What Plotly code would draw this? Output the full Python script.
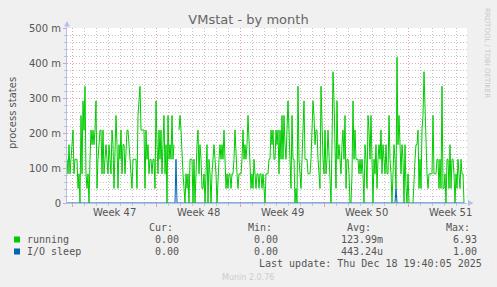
import pandas as pd
import plotly.graph_objects as go

TITLE = "VMstat - by month"
Y_LABEL = "process states"

# Time axis: one sample every 2 hours, first sample at this time
SERIES_START = "2025-11-15 14:00"
STEP_HOURS = 2
X_RANGE = ["2025-11-15 14:00", "2025-12-18 22:00"]

# "running" values, in units of 1/24 process (None = no data)
UNIT = 1 / 24
running_counts = [
    3, 2, 4, 2, 3, 4, 5, 2, 3, 3, 3, 1, 2, 0, 6, 2, 7, 5, 8, 2,
    1, 2, 0, 3, 5, 4, 5, 4, 5, 7, 1, 3, 4, 5, 5, 2, 5, 2, 3, 4,
    3, 2, 4, 3, 2, 5, 4, 1, 3, 6, 4, 1, 4, 3, 5, 2, 4,
    4, 2, 4, 5, 5, 4, 3, 2, 1, 3, 3, 3, 3, 1, 6, 7, 8, 5, 5, 5,
    5, 1, 5, 3, 4, 2, 3, 3, 2, 3, 3, 1, 7, 4, 2, 5, 3, 5, 2, 4,
    6, 2, 4, 0, 6, 3, 4, 3, 6, 3, 4,
    None, None, None, None,
    5, 6, 5, 3, 2, 1, 0, 2, 1, 2, 0, 3, 3, 3, 0, 3, 0, 3, 4, 5,
    2, 4, 3, 1, 1, 2, 0, 2, 4, 0, 3, 2, 0, 2, 3, 4, 3, 2, 0, 2,
    3, 4, 3, 4, 3, 5, 2, 1, 2, 1, 2, 2, 1, 2, 2, 3, 5, 3, 2,
    1, 2, 2, 2, 3, 5, 3, 4, 3, 4, 6, 4, 3, 1, 2, 1, 3, 2, 1, 2,
    2, 1, 2, 2, 1, 2, 1, 0, 2, 2, 2, 3, 3, 5, 4, 5, 3, 3, 5, 4,
    5, 2, 5, 3, 6, 3, 6, 4, 3, 5, 7, 5, 3, 1, 6, 3, 3, 0,
    1, 0, 8, 3, 2, 1, 3, 5, 7, 3, 3, 3, 2, 2, 2, 3, 5, 7, 6, 4,
    5, 5, 3, 2, 1, 8, 5, 3, 2, 5, 2, 3, 5, 3, 1, 0, 4, 9, 7, 4,
    1, 7, 3, 4, 3, 2, 4, 5, 3, 6, 1, 3, 3, 2, 0, 0, 2, 7,
    3, 5, 3, 3, 3, 2, 3, 2, 3, 2, 0, 4, 3, 1, 6, 5, 3, 6, 2, 0,
    3, 2, 4, 1, 3, 4, 3, 5, 2, 4, 3, 2, 4, 2, 2, 6, 3, 2, 0, 3,
    4, 3, 1, 10, 4, 6, 3, 2, 4, 3, 0, 4, 1, 0, 2, 0,
    None, None, None,
    0, 2, 3, 4, 4, 5, 1, 3, 1, 5, 6, 9, 6, 4, 2, 1, 2, 2, 2, 2,
    6, 2, 2, 2, 3, 3, 1, 3, 1, 8, 1, 1, 2, 0, 3, 3, 1, 4, 1, 3,
    3, 2, 0, 2, 1, 3, 2, 1, 3, 2, 2, 0,
]

# "I/O sleep" is zero except for these two spikes
io_sleep_spikes = {"2025-11-24 16:00": 0.125, "2025-12-13 00:00": 0.0417}

# Axis ticks
week_starts = ["2025-11-16", "2025-11-23", "2025-11-30", "2025-12-07", "2025-12-14"]
week_label_times = ["2025-11-19 12:00", "2025-11-26 12:00", "2025-12-03 12:00",
                    "2025-12-10 12:00", "2025-12-17 12:00"]
week_labels = ["Week 47", "Week 48", "Week 49", "Week 50", "Week 51"]
y_tickvals = [0, 0.1, 0.2, 0.3, 0.4, 0.5]
y_ticktext = ["0", "100 m", "200 m", "300 m", "400 m", "500 m"]

# Legend table
series_names = ["running", "I/O sleep"]
series_colors = ["#00CC00", "#0066B3"]
stat_headers = ["Cur:", "Min:", "Avg:", "Max:"]
stat_running = ["0.00", "0.00", "123.99m", "6.93"]
stat_iosleep = ["0.00", "0.00", "443.24u", "1.00"]
last_update = "Last update: Thu Dec 18 19:40:05 2025"
footer = "Munin 2.0.76"
side_text = "RRDTOOL / TOBI OETIKER"

# ---------------------------------------------------------------
times = pd.date_range(SERIES_START, periods=len(running_counts), freq=f"{STEP_HOURS}h")
running = [None if v is None else v * UNIT for v in running_counts]
io_sleep = [io_sleep_spikes.get(t.strftime("%Y-%m-%d %H:%M"), 0.0) for t in times]

W, H = 497, 287
L, R, T, B = 67, 467, 28, 203


def px(x):
    return (x - L) / (R - L)


def py(y):
    return (B - y) / (B - T)


TEXT = "#555555"
AXIS = "#B4C0EA"
MGRID = "#EBA0A0"
GRID = "#C4C4C4"
DOTS = "1px,2px"

fig = go.Figure()
fig.add_trace(go.Scatter(x=times, y=io_sleep, mode="lines",
                         line=dict(color=series_colors[1], width=1), hoverinfo="skip"))
fig.add_trace(go.Scatter(x=times, y=running, mode="lines", connectgaps=False,
                         line=dict(color=series_colors[0], width=1), hoverinfo="skip"))

fig.update_layout(
    width=W, height=H,
    margin=dict(l=L, r=W - R, t=T, b=H - B, pad=0),
    paper_bgcolor="#F0F0F0", plot_bgcolor="#FFFFFF",
    font=dict(family="DejaVu Sans", size=10, color=TEXT),
    showlegend=False,
    title=dict(text=TITLE, x=0.5, xref="container", xanchor="center",
               y=1 - 19 / H, yref="container", yanchor="middle",
               font=dict(size=13, color="#666666", family="DejaVu Sans")),
)

fig.update_xaxes(
    type="date", range=X_RANGE, tickvals=week_starts, ticktext=[""] * len(week_starts),
    showgrid=True, gridcolor=MGRID, griddash=DOTS, gridwidth=1,
    ticks="outside", ticklen=3, tickcolor=MGRID,
    showline=True, linecolor=AXIS, linewidth=1, layer="above traces",
    zeroline=False, automargin=False, fixedrange=True,
    minor=dict(dtick=86400000, tick0="2025-11-16", showgrid=True, gridcolor=GRID,
               griddash=DOTS, gridwidth=1, ticks="outside", ticklen=2, tickcolor=GRID),
)
fig.update_yaxes(
    range=[0, 0.5], tickvals=y_tickvals, ticktext=y_ticktext,
    showgrid=True, gridcolor=MGRID, griddash=DOTS, gridwidth=1,
    ticks="outside", ticklen=3, tickcolor=MGRID,
    tickfont=dict(size=10, color=TEXT),
    showline=True, linecolor=AXIS, linewidth=1, layer="above traces",
    zeroline=False, automargin=False, fixedrange=True,
    minor=dict(dtick=0.02, tick0=0, showgrid=True, gridcolor=GRID,
               griddash=DOTS, gridwidth=1, ticks="outside", ticklen=2, tickcolor=GRID),
)

ann = []
# week labels
for t, lab in zip(week_label_times, week_labels):
    ann.append(dict(x=t, xref="x", y=py(212), yref="paper", text=lab, showarrow=False,
                    xanchor="center", yanchor="middle", font=dict(size=10, color=TEXT)))
# y axis title
ann.append(dict(x=px(12), y=py(113), xref="paper", yref="paper", text=Y_LABEL,
                showarrow=False, textangle=-90, xanchor="center", yanchor="middle",
                font=dict(size=10, color=TEXT)))
# side text
ann.append(dict(x=px(487), y=py(53), xref="paper", yref="paper", text=side_text,
                showarrow=False, textangle=90, xanchor="center", yanchor="middle",
                font=dict(size=7, color="#C8C8C8")))

MONO = "DejaVu Sans Mono"
hdr_right = [173, 272, 371, 470]
val_right = [179, 278, 383, 477]
for h, xr in zip(stat_headers, hdr_right):
    ann.append(dict(x=px(xr), y=py(227), xref="paper", yref="paper", text=h,
                    showarrow=False, xanchor="right", yanchor="middle",
                    borderpad=0, borderwidth=0, font=dict(family=MONO, size=10, color=TEXT)))
for row_y, name, stats in [(239, series_names[0], stat_running),
                           (251, series_names[1], stat_iosleep)]:
    ann.append(dict(x=px(27), y=py(row_y), xref="paper", yref="paper", text=name,
                    showarrow=False, xanchor="left", yanchor="middle",
                    borderpad=0, borderwidth=0, font=dict(family=MONO, size=10, color=TEXT)))
    for v, xr in zip(stats, val_right):
        ann.append(dict(x=px(xr), y=py(row_y), xref="paper", yref="paper", text=v,
                        showarrow=False, xanchor="right", yanchor="middle",
                        borderpad=0, borderwidth=0, font=dict(family=MONO, size=10, color=TEXT)))
ann.append(dict(x=px(482), y=py(263), xref="paper", yref="paper", text=last_update,
                showarrow=False, xanchor="right", yanchor="middle",
                borderpad=0, borderwidth=0, font=dict(family=MONO, size=10, color=TEXT)))
ann.append(dict(x=px(248), y=py(277), xref="paper", yref="paper", text=footer,
                showarrow=False, xanchor="center", yanchor="middle",
                font=dict(size=8, color="#CCCCCC")))
fig.update_layout(annotations=ann)

shapes = []
# legend swatches
for row_y, col in [(239.5, series_colors[0]), (251.5, series_colors[1])]:
    shapes.append(dict(type="rect", xref="paper", yref="paper",
                       x0=px(14), x1=px(20), y0=py(row_y - 3), y1=py(row_y + 3),
                       fillcolor=col, line=dict(width=0)))
# axis arrows
shapes.append(dict(type="path", xref="paper", yref="paper",
                   path=f"M {px(64)} {py(26.5)} L {px(70)} {py(26.5)} L {px(67)} {py(21)} Z",
                   fillcolor=AXIS, line=dict(width=0)))
shapes.append(dict(type="line", xref="paper", yref="paper",
                   x0=px(67), x1=px(67), y0=py(28), y1=py(26.5),
                   line=dict(color=AXIS, width=1)))
shapes.append(dict(type="path", xref="paper", yref="paper",
                   path=f"M {px(468)} {py(200)} L {px(468)} {py(206)} L {px(473.5)} {py(203)} Z",
                   fillcolor=AXIS, line=dict(width=0)))
fig.update_layout(shapes=shapes)

fig.write_html("out.html")
